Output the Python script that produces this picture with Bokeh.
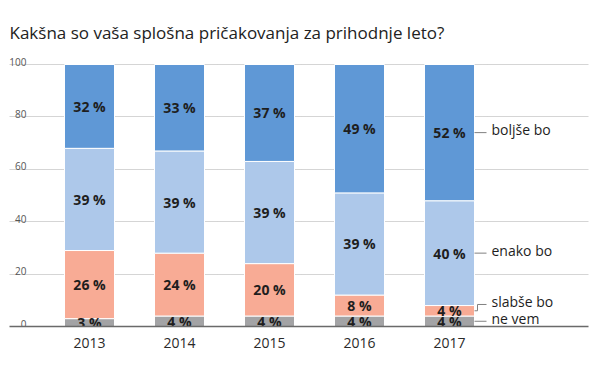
from bokeh.plotting import figure
from bokeh.models import Range1d, FixedTicker, ColumnDataSource
from bokeh.core.properties import value
from bokeh.embed import file_html
from bokeh.resources import INLINE

# ---- data ----
years = ["2013", "2014", "2015", "2016", "2017"]
ne_vem = [3, 4, 4, 4, 4]
slabse = [26, 24, 20, 8, 4]
enako = [39, 39, 39, 39, 40]
boljse = [32, 33, 37, 49, 52]
series_names = ["ne vem", "slabše bo", "enako bo", "boljše bo"]
series_vals = [ne_vem, slabse, enako, boljse]
series_colors = ["#a3a3a5", "#f8ab95", "#adc8ea", "#5f98d6"]
y_ticks = [0, 20, 40, 60, 80, 100]
title_text = "Kakšna so vaša splošna pričakovanja za prihodnje leto?"

FONT = "Open Sans"
TXT = "#1e1e1e"

# geometry (pixels per unit on each scale)
PX_X = 90.0
PX_Y = 2.62
FRAME_W = 579
FRAME_H = 277
X_START = -80.0 / PX_X
X_END = X_START + FRAME_W / PX_X
Y_END = FRAME_H / PX_Y
BAR_W = 50.0 / PX_X

p = figure(output_backend="svg", toolbar_location=None,
           frame_width=FRAME_W, frame_height=FRAME_H,
           x_range=Range1d(X_START, X_END), y_range=Range1d(0, Y_END),
           y_axis_location=None, min_border_left=9, min_border_right=2,
           min_border_top=49, min_border_bottom=36)
p.outline_line_color = None
p.background_fill_color = "white"

# title
p.title.text = title_text
p.title.text_font = FONT
p.title.text_font_size = "17px"
p.title.text_font_style = "normal"
p.title.text_color = "#222222"
p.title.align = "left"
p.title.standoff = 12

# grid
p.xgrid.visible = False
p.ygrid.ticker = FixedTicker(ticks=y_ticks[1:])
p.ygrid.grid_line_color = "#aaaaaa"
p.ygrid.grid_line_dash = "1 1"
p.ygrid.grid_line_width = 1

# x axis
xs = list(range(len(years)))
p.xaxis.ticker = FixedTicker(ticks=xs)
p.xaxis.major_label_overrides = {i: y for i, y in enumerate(years)}
p.xaxis.major_tick_line_color = None
p.xaxis.minor_tick_line_color = None
p.xaxis.axis_line_color = "#6a6a6a"
p.xaxis.axis_line_width = 1.5
p.xaxis.major_label_text_font = FONT
p.xaxis.major_label_text_font_size = "14px"
p.xaxis.major_label_text_color = "#2a2a2a"
p.xaxis.major_label_standoff = 5

# y tick labels drawn above the gridlines
p.text(x=[X_START] * len(y_ticks), y=y_ticks, text=[str(t) for t in y_ticks],
       x_offset=17, y_offset=-3, text_align="right", text_baseline="alphabetic",
       text_font=value(FONT), text_font_size="10px", text_color="#555555")

# stacked bars
bottoms = [0] * len(years)
label_x, label_y, label_t = [], [], []
mids_last = []
for name, vals, col in zip(series_names, series_vals, series_colors):
    tops = [b + v for b, v in zip(bottoms, vals)]
    src = ColumnDataSource(dict(x=xs, bottom=bottoms, top=tops))
    p.vbar(x="x", bottom="bottom", top="top", width=BAR_W, source=src,
           fill_color=col, line_color="white", line_width=1)
    for i, (b, v) in enumerate(zip(bottoms, vals)):
        label_x.append(i)
        label_y.append(b + v / 2)
        label_t.append(f"{v} %")
    mids_last.append(bottoms[-1] + vals[-1] / 2)
    bottoms = tops

p.text(x=label_x, y=label_y, text=label_t, text_align="center",
       text_baseline="middle", text_font=value(FONT), text_font_size="14px",
       text_font_style="bold", text_color=TXT)

# right-side series labels with connectors
last = len(years) - 1
x0 = last + BAR_W / 2
x_end = x0 + 12 / PX_X
x_elb = x0 + 3 / PX_X
rise = 6.3 / PX_Y  # elbow rise for the small "slabše bo" segment
line_ys = []
for k, (name, m) in enumerate(zip(series_names, mids_last)):
    if name == "slabše bo":
        p.line(x=[x0, x_elb, x_elb, x_end], y=[m, m, m + rise, m + rise],
               line_color="#808080", line_width=1)
        line_ys.append(m + rise)
    else:
        p.line(x=[x0, x_end], y=[m, m], line_color="#808080", line_width=1)
        line_ys.append(m)

p.text(x=[x_end] * len(series_names), y=line_ys, text=series_names,
       x_offset=5, y_offset=-3, text_align="left", text_baseline="middle",
       text_font=value(FONT), text_font_size="14px", text_color=TXT)

open("out.html", "w").write(file_html(p, INLINE))
